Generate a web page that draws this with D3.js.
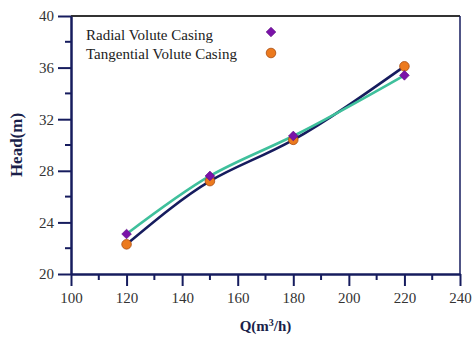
<!DOCTYPE html>
<html>
<head>
<meta charset="utf-8">
<script src="https://cdn.jsdelivr.net/npm/d3@7"></script>
<style>
  body { margin: 0; background: #fff; }
  text { font-family: "Liberation Serif", "Times New Roman", serif; }
</style>
</head>
<body>
<svg id="chart" width="472" height="337"></svg>
<script>
// data
var flow = [120, 150, 180, 220];
var radialHead = [23.1, 27.6, 30.7, 35.4];
var tangentialHead = [22.3, 27.2, 30.4, 36.1];
var xTicks = [100, 120, 140, 160, 180, 200, 220, 240];
var yTicks = [20, 24, 28, 32, 36, 40];
var seriesNames = ["Radial Volute Casing", "Tangential Volute Casing"];

var navy = "#161c5e", teal = "#3fc09c", purple = "#7a12a8", orange = "#ec7a1e";

var svg = d3.select("#chart");
var margin = {top: 16, right: 12, bottom: 63, left: 71};
var width = 472 - margin.left - margin.right,
    height = 337 - margin.top - margin.bottom;

var x = d3.scaleLinear().domain([100, 240]).range([0, width]);
var y = d3.scaleLinear().domain([20, 40]).range([height, 0]);

var g = svg.append("g").attr("transform", "translate(" + margin.left + "," + margin.top + ")");

// frame (top + right)
g.append("line").attr("x1", 0).attr("x2", width).attr("y1", 0).attr("y2", 0)
  .attr("stroke", "#333").attr("stroke-width", 2);
g.append("line").attr("x1", width).attr("x2", width).attr("y1", 0).attr("y2", height)
  .attr("stroke", navy).attr("stroke-width", 1.5);

// minor ticks
var xMinor = d3.range(110, 240, 20);
var yMinor = d3.range(22, 40, 4);
g.selectAll(".xminor").data(xMinor).enter().append("line")
  .attr("x1", x).attr("x2", x).attr("y1", height).attr("y2", height + 6)
  .attr("stroke", navy).attr("stroke-width", 2);
g.selectAll(".yminor").data(yMinor).enter().append("line")
  .attr("x1", -6).attr("x2", 0).attr("y1", y).attr("y2", y)
  .attr("stroke", navy).attr("stroke-width", 2);

var xAxis = g.append("g").attr("transform", "translate(0," + height + ")")
  .call(d3.axisBottom(x).tickValues(xTicks).tickSize(12).tickPadding(6).tickSizeOuter(0));
var yAxis = g.append("g")
  .call(d3.axisLeft(y).tickValues(yTicks).tickSize(13).tickPadding(4).tickSizeOuter(0));

[xAxis, yAxis].forEach(function(a) {
  a.select(".domain").attr("stroke", navy).attr("stroke-width", 2.5);
  a.selectAll(".tick line").attr("stroke", navy).attr("stroke-width", 2);
  a.selectAll(".tick text").attr("fill", "#333").style("font-size", "15px")
    .style("font-family", "'Liberation Serif', 'Times New Roman', serif");
});

// curves
var line = d3.line().curve(d3.curveNatural);
g.append("path")
  .attr("d", line(flow.map(function(q, i) { return [x(q), y(tangentialHead[i])]; })))
  .attr("fill", "none").attr("stroke", navy).attr("stroke-width", 2.6);
g.append("path")
  .attr("d", line(flow.map(function(q, i) { return [x(q), y(radialHead[i])]; })))
  .attr("fill", "none").attr("stroke", teal).attr("stroke-width", 2.6);

var diamond = d3.symbol().type(d3.symbolDiamond2).size(60);

// markers
g.selectAll(".circ").data(flow).enter().append("circle")
  .attr("cx", x).attr("cy", function(d, i) { return y(tangentialHead[i]); })
  .attr("r", 4.8).attr("fill", orange).attr("stroke", "#a84c12").attr("stroke-width", 0.8);
g.selectAll(".dia").data(flow).enter().append("path")
  .attr("d", diamond)
  .attr("transform", function(d, i) { return "translate(" + x(d) + "," + y(radialHead[i]) + ")"; })
  .attr("fill", purple).attr("stroke", "#5a0a80").attr("stroke-width", 0.6);

// legend
var legend = g.append("g").attr("transform", "translate(15,24)");
seriesNames.forEach(function(name, i) {
  legend.append("text").attr("x", 0).attr("y", i * 19)
    .attr("fill", "#222").style("font-size", "15px").text(name);
});
legend.append("path").attr("d", diamond).attr("transform", "translate(185,-8)")
  .attr("fill", purple).attr("stroke", "#5a0a80").attr("stroke-width", 0.6);
legend.append("circle").attr("cx", 185).attr("cy", 13).attr("r", 4.8)
  .attr("fill", orange).attr("stroke", "#a84c12").attr("stroke-width", 0.8);

// axis titles
svg.append("text").attr("x", margin.left + width / 2).attr("y", 331)
  .attr("text-anchor", "middle").attr("fill", "#1a1f4a")
  .style("font-size", "15px").style("font-weight", "bold")
  .html("Q(m<tspan dy='-5' style='font-size:10px'>3</tspan><tspan dy='5'>/h)</tspan>");
svg.append("text")
  .attr("transform", "translate(22," + (margin.top + height / 2) + ") rotate(-90)")
  .attr("text-anchor", "middle").attr("fill", "#1a1f4a")
  .style("font-size", "17px").style("font-weight", "bold")
  .text("Head(m)");
</script>
</body>
</html>
